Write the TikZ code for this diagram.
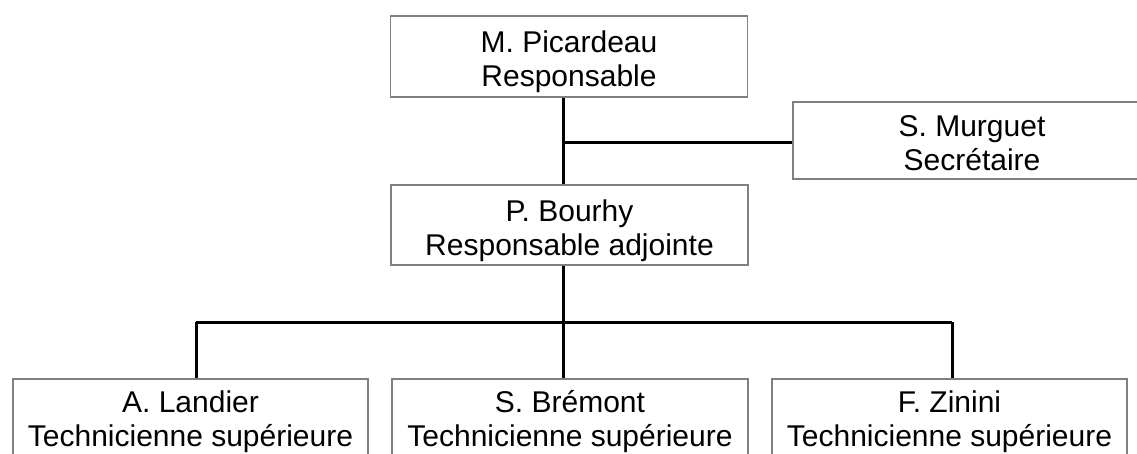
\documentclass[tikz,border=0pt]{standalone}
\usepackage{fontspec}
\setmainfont{Liberation Sans}
\newcommand{\topstrutx}{\rule{0pt}{33.4pt}}
\newcommand{\botstrutx}{\rule[-7pt]{0pt}{7pt}}
\newcommand{\lowstrutx}{\rule[-14pt]{0pt}{14pt}}
\begin{document}
\begin{tikzpicture}[x=1pt,y=-1pt,
  box/.style={draw=black!50, line width=1.6pt, fill=white, rectangle, align=center,
    inner sep=0pt, minimum width=357pt, minimum height=81pt,
    font=\fontsize{30}{34}\selectfont, text=black},
  link/.style={draw=black, line width=3pt}]
\useasboundingbox (0,0) rectangle (1137,453);
\clip (0,0) rectangle (1137,453);
\coordinate (cx) at (563,0);
\coordinate (lx) at (196,0);
\coordinate (zx) at (952,0);
\coordinate (hy) at (0,142);
\coordinate (by) at (0,322);
\node[box] (pic) at (569,56.5) {\topstrutx M. Picardeau\\Responsable\botstrutx};
\node[box, minimum width=358pt, minimum height=77pt] (mur) at (972,140.5) {\topstrutx S. Murguet\\Secrétaire\botstrutx};
\node[box, minimum height=80pt] (bou) at (569.5,225) {\topstrutx P. Bourhy\\Responsable adjointe\botstrutx};
\node[box, minimum width=355pt] (lan) at (190.5,419.5) {\topstrutx A. Landier\\Technicienne supérieure\lowstrutx};
\node[box, minimum width=356pt] (bre) at (570,419.5) {\topstrutx S. Brémont\\Technicienne supérieure\lowstrutx};
\node[box, minimum width=355pt] (zin) at (949.5,419.5) {\topstrutx F. Zinini\\Technicienne supérieure\lowstrutx};
\draw[link] (pic.south -| cx) -- (bou.north -| cx);
\draw[link] (cx |- hy) -- (mur.west |- hy);
\draw[link] (bou.south -| cx) -- (bre.north -| cx);
\draw[link] (lx |- by) -- (zx |- by);
\draw[link] (lx |- by) -- (lan.north -| lx);
\draw[link] (zx |- by) -- (zin.north -| zx);
\end{tikzpicture}
\end{document}
